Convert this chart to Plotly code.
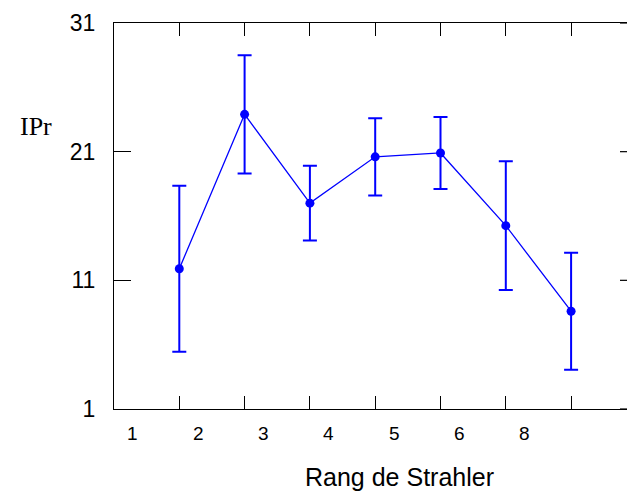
import plotly.graph_objects as go

categories = ["1", "2", "3", "4", "5", "6", "8"]
positions = [1, 2, 3, 4, 5, 6, 7]
means = [11.9, 23.9, 17.0, 20.6, 20.9, 15.25, 8.6]
errors = [6.45, 4.6, 2.9, 3.0, 2.8, 5.0, 4.55]
y_ticks = [1, 11, 21, 31]
label_offset = -0.71

fig = go.Figure()
fig.add_trace(go.Scatter(
    x=positions, y=means, mode="lines+markers",
    line=dict(color="#0000ff", width=1.3),
    marker=dict(color="#0000ff", size=9),
    error_y=dict(type="data", array=errors, visible=True, color="#0000ff",
                 thickness=2, width=7),
    showlegend=False,
))

W, H = 627, 491
L, T, B = 114, 23, 82
plot_w = W - L
x_max = plot_w / 65.3

annotations = []
for p, c in zip(positions, categories):
    annotations.append(dict(x=p + label_offset, y=-24 / 386, xref="x", yref="paper",
                            text=c, showarrow=False, xanchor="center", yanchor="middle",
                            font=dict(family="Liberation Sans, Arial", size=19, color="black")))
annotations.append(dict(x=(399 - L) / plot_w, y=(409 - 477) / 386, xref="paper", yref="paper",
                        text="Rang de Strahler", showarrow=False, xanchor="center", yanchor="middle",
                        font=dict(family="Liberation Sans, Arial", size=25, color="black")))
annotations.append(dict(x=(36 - L) / plot_w, y=(409 - 127) / 386, xref="paper", yref="paper",
                        text="IPr", showarrow=False, xanchor="center", yanchor="middle",
                        font=dict(family="Liberation Serif, Times New Roman, serif", size=26, color="black")))

shapes = []
for yt in y_ticks:
    shapes.append(dict(type="line", xref="paper", yref="y", x0=(620 - L) / plot_w, x1=1,
                       y0=yt, y1=yt, line=dict(color="black", width=1.2)))

fig.update_layout(
    width=W, height=H,
    margin=dict(l=L, r=0, t=T, b=B, autoexpand=False),
    paper_bgcolor="white", plot_bgcolor="white",
    xaxis=dict(range=[0, x_max], tickvals=list(range(0, 8)), ticks="inside", ticklen=13,
               tickcolor="black", tickwidth=1.2, showticklabels=False, showgrid=False,
               zeroline=False, showline=True, linecolor="black", linewidth=1.2, mirror="ticks"),
    yaxis=dict(range=[1, 31], tickvals=y_ticks, ticktext=[str(v) for v in y_ticks],
               ticks="inside", ticklen=17, tickcolor="black", tickwidth=1.2,
               showgrid=False, zeroline=False, showline=True, linecolor="black", linewidth=1.2,
               mirror=False, ticklabelstandoff=13,
               tickfont=dict(family="Liberation Sans, Arial", size=23, color="black")),
    annotations=annotations,
    shapes=shapes,
)

fig.write_html("out.html", config={"displayModeBar": False},
               post_script="document.body.style.margin='0px';document.body.style.overflow='hidden';")
